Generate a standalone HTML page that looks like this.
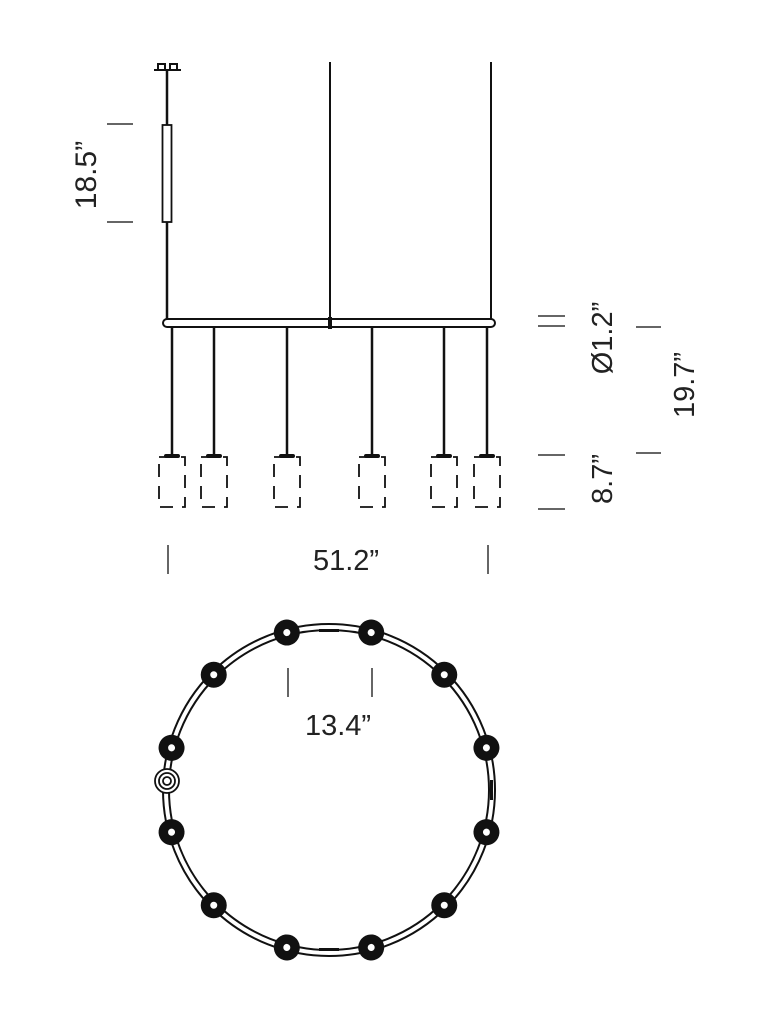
<!DOCTYPE html>
<html><head><meta charset="utf-8"><style>
html,body{margin:0;padding:0;background:#fff;width:778px;height:1024px;overflow:hidden}
text{font-family:"Liberation Sans",sans-serif;fill:#222}
</style></head><body>
<svg width="778" height="1024" viewBox="0 0 778 1024" xmlns="http://www.w3.org/2000/svg">
<g stroke="#111" fill="none">
<path d="M154 70 H181 M158 70 V64 H165 V70 M170 70 V64 H177 V70" stroke-width="2"/>
<line x1="167" y1="70" x2="167" y2="320" stroke-width="2.5"/>
<rect x="162.5" y="125" width="9" height="97" fill="#fff" stroke-width="1.8"/>
<line x1="330" y1="62" x2="330" y2="320" stroke-width="2"/>
<line x1="491" y1="62" x2="491" y2="320" stroke-width="2"/>
<rect x="163" y="319" width="332" height="8" rx="4" fill="#fff" stroke-width="2"/>
<rect x="328" y="317" width="4" height="12" fill="#111" stroke="none"/>
<g stroke-width="2.5">
<line x1="172" y1="327" x2="172" y2="455"/><line x1="214" y1="327" x2="214" y2="455"/>
<line x1="287" y1="327" x2="287" y2="455"/><line x1="372" y1="327" x2="372" y2="455"/>
<line x1="444" y1="327" x2="444" y2="455"/><line x1="487" y1="327" x2="487" y2="455"/>
</g>
<g stroke-width="1.8" stroke-dasharray="13 9">
<rect x="159" y="457" width="26" height="50"/><rect x="201" y="457" width="26" height="50"/>
<rect x="274" y="457" width="26" height="50"/><rect x="359" y="457" width="26" height="50"/>
<rect x="431" y="457" width="26" height="50"/><rect x="474" y="457" width="26" height="50"/>
</g>
<g fill="#111" stroke="none">
<rect x="164" y="454" width="16" height="4" rx="2"/><rect x="206" y="454" width="16" height="4" rx="2"/>
<rect x="279" y="454" width="16" height="4" rx="2"/><rect x="364" y="454" width="16" height="4" rx="2"/>
<rect x="436" y="454" width="16" height="4" rx="2"/><rect x="479" y="454" width="16" height="4" rx="2"/>
</g>
<g stroke="#333" stroke-width="1.5">
<line x1="107" y1="124" x2="133" y2="124"/><line x1="107" y1="222" x2="133" y2="222"/>
<line x1="538" y1="316" x2="565" y2="316"/><line x1="538" y1="326" x2="565" y2="326"/>
<line x1="636" y1="327" x2="661" y2="327"/><line x1="636" y1="453" x2="661" y2="453"/>
<line x1="538" y1="455" x2="565" y2="455"/><line x1="538" y1="509" x2="565" y2="509"/>
<line x1="168" y1="545" x2="168" y2="574"/><line x1="488" y1="545" x2="488" y2="574"/>
<line x1="288" y1="668" x2="288" y2="697"/><line x1="372" y1="668" x2="372" y2="697"/>
</g>
<circle cx="329" cy="790" r="166" stroke-width="2"/>
<circle cx="329" cy="790" r="160" stroke-width="2"/>
</g>
<g fill="#111">
<g transform="rotate(15 329 790)"><circle cx="329" cy="627" r="13"/><circle cx="329" cy="627" r="3.5" fill="#fff"/></g>
<g transform="rotate(-15 329 790)"><circle cx="329" cy="627" r="13"/><circle cx="329" cy="627" r="3.5" fill="#fff"/></g>
<g transform="rotate(45 329 790)"><circle cx="329" cy="627" r="13"/><circle cx="329" cy="627" r="3.5" fill="#fff"/></g>
<g transform="rotate(-45 329 790)"><circle cx="329" cy="627" r="13"/><circle cx="329" cy="627" r="3.5" fill="#fff"/></g>
<g transform="rotate(75 329 790)"><circle cx="329" cy="627" r="13"/><circle cx="329" cy="627" r="3.5" fill="#fff"/></g>
<g transform="rotate(-75 329 790)"><circle cx="329" cy="627" r="13"/><circle cx="329" cy="627" r="3.5" fill="#fff"/></g>
<g transform="rotate(105 329 790)"><circle cx="329" cy="627" r="13"/><circle cx="329" cy="627" r="3.5" fill="#fff"/></g>
<g transform="rotate(-105 329 790)"><circle cx="329" cy="627" r="13"/><circle cx="329" cy="627" r="3.5" fill="#fff"/></g>
<g transform="rotate(135 329 790)"><circle cx="329" cy="627" r="13"/><circle cx="329" cy="627" r="3.5" fill="#fff"/></g>
<g transform="rotate(-135 329 790)"><circle cx="329" cy="627" r="13"/><circle cx="329" cy="627" r="3.5" fill="#fff"/></g>
<g transform="rotate(165 329 790)"><circle cx="329" cy="627" r="13"/><circle cx="329" cy="627" r="3.5" fill="#fff"/></g>
<g transform="rotate(-165 329 790)"><circle cx="329" cy="627" r="13"/><circle cx="329" cy="627" r="3.5" fill="#fff"/></g>
</g>
<g stroke="#111" stroke-width="1.8">
<circle cx="167" cy="781" r="12" fill="#fff"/><circle cx="167" cy="781" r="8" fill="none"/><circle cx="167" cy="781" r="4" fill="none"/>
</g>
<g fill="#111">
<rect x="319" y="629" width="20" height="3"/><rect x="319" y="948" width="20" height="3"/><rect x="490" y="780" width="3" height="20"/>
</g>
<text x="346" y="570" font-size="29" text-anchor="middle">51.2”</text>
<text x="338" y="735" font-size="29" text-anchor="middle">13.4”</text>
<text transform="translate(96 175) rotate(-90)" font-size="30" text-anchor="middle">18.5”</text>
<text transform="translate(612 338) rotate(-90)" font-size="29" text-anchor="middle">Ø1.2”</text>
<text transform="translate(694 385) rotate(-90)" font-size="29" text-anchor="middle">19.7”</text>
<text transform="translate(612 479) rotate(-90)" font-size="29" text-anchor="middle">8.7”</text>
</svg>
</body></html>
